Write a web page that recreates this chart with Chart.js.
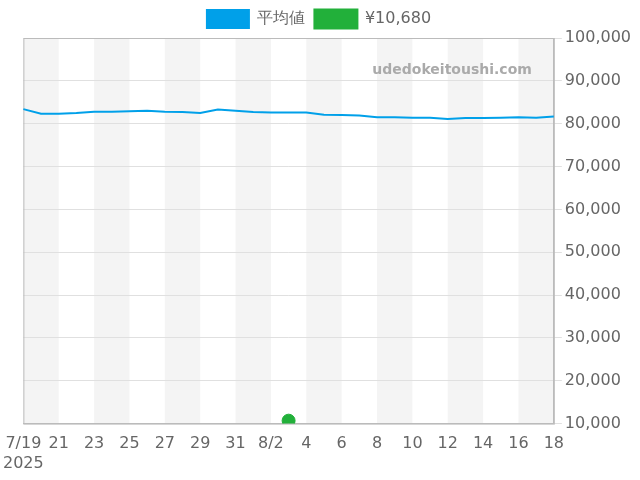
<!DOCTYPE html><html><head><script src="https://cdn.jsdelivr.net/npm/chart.js@4"></script>
<style>body{margin:0}#w{width:640px;height:480px}</style></head><body><div id="w"><canvas id="c"></canvas></div><script>
const labels=["7/19","20","21","22","23","24","25","26","27","28","29","30","31","8/1","8/2","3","4","5","6","7","8","9","10","11","12","13","14","15","16","17","18"];
const avg=[83400,82300,82300,82500,82800,82800,82900,83000,82800,82700,82500,83300,83000,82700,82600,82600,82600,82100,82000,81900,81500,81500,81400,81400,81100,81300,81300,81400,81500,81400,81700];
const sale=labels.map((l,i)=>l==="3"?10680:null);
const bands={id:'b',beforeDraw(ch){const {ctx,chartArea:a,scales:{x}}=ch;ctx.save();ctx.fillStyle='#f4f4f4';for(let i=0;i<labels.length-1;i+=4){const x1=x.getPixelForValue(i),x2=x.getPixelForValue(Math.min(i+2,labels.length-1));ctx.fillRect(x1,a.top,x2-x1,a.bottom-a.top);}ctx.restore();},
beforeDatasetsDraw(ch){const {ctx,chartArea:a}=ch;ctx.save();ctx.strokeStyle='#bbb';ctx.lineWidth=1;ctx.strokeRect(a.left+0.5,a.top+0.5,a.right-a.left,a.bottom-a.top);
ctx.font='bold 14px "DejaVu Sans"';ctx.fillStyle='#aaa';ctx.textAlign='right';ctx.fillText('udedokeitoushi.com',a.right-22,a.top+32);ctx.restore();}};
new Chart(document.getElementById('c'),{type:'line',data:{labels,datasets:[
{label:'平均値',data:avg,borderColor:'#00a0e9',backgroundColor:'#00a0e9',borderWidth:2,pointRadius:0,tension:0},
{label:'¥10,680',data:sale,borderColor:'#22b03a',backgroundColor:'#22b03a',pointRadius:6.5,showLine:false}]},
options:{responsive:true,maintainAspectRatio:false,animation:false,layout:{padding:{left:4,right:6,top:0,bottom:4}},
plugins:{legend:{labels:{font:{size:16,family:'"DejaVu Sans"'},color:'#666',boxWidth:42,boxHeight:18}},tooltip:{enabled:false}},
scales:{x:{offset:false,grid:{display:false},border:{color:'#bbb'},ticks:{autoSkip:false,maxRotation:0,font:{size:16,family:'"DejaVu Sans"'},color:'#666',
callback:(v,i)=>i%2?null:(i===0?['7/19','2025']:labels[i])}},
y:{position:'right',min:10000,max:100000,grid:{color:'#e0e0e0'},border:{color:'#bbb'},ticks:{stepSize:10000,font:{size:16,family:'"DejaVu Sans"'},color:'#666',callback:v=>v.toLocaleString('en-US')}}}},plugins:[bands]});
</script></body></html>
